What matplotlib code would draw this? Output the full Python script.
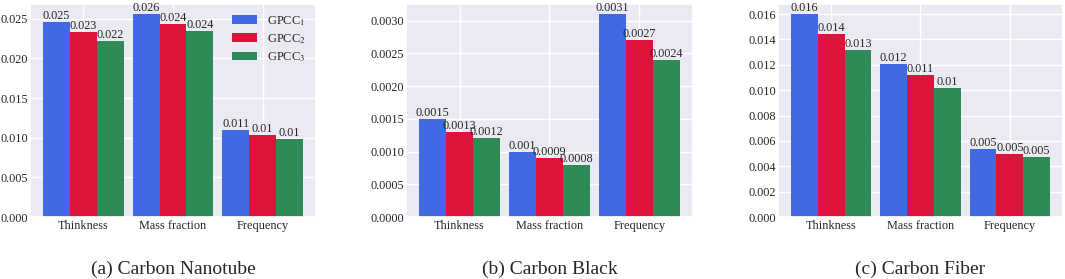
import numpy as np
import seaborn as sns
from matplotlib import pyplot as plt
from matplotlib.ticker import MultipleLocator

sns.set_theme(style='darkgrid')
plt.rcParams['font.family'] = ['Liberation Serif', 'DejaVu Serif']
plt.rcParams['mathtext.fontset'] = 'stix'

categories = ['Thinkness', 'Mass fraction', 'Frequency']
series = ['GPCC$_1$', 'GPCC$_2$', 'GPCC$_3$']
colors = ['royalblue', 'crimson', 'seagreen']

# values per panel: rows = GPCC1..3, cols = categories
nanotube = [[0.0246, 0.0256, 0.0110],
            [0.0234, 0.0244, 0.0104],
            [0.0222, 0.0235, 0.0098]]
black = [[0.0015, 0.0010, 0.0031],
         [0.0013, 0.0009, 0.0027],
         [0.0012, 0.0008, 0.0024]]
fiber = [[0.0160, 0.0121, 0.0054],
         [0.0144, 0.0112, 0.0050],
         [0.0132, 0.0102, 0.0047]]

panels = [nanotube, black, fiber]
digits = [3, 4, 3]
steps = [0.005, 0.0005, 0.002]
captions = ['(a) Carbon Nanotube', '(b) Carbon Black', '(c) Carbon Fiber']
positions = [[0.0282, 0.222, 0.2685, 0.764],
             [0.3812, 0.222, 0.2695, 0.764],
             [0.7305, 0.222, 0.2676, 0.764]]

fig = plt.figure(figsize=(10.65, 2.79), dpi=100)
x = np.arange(len(categories))
w = 0.3

for p in range(3):
    ax = fig.add_axes(positions[p])
    for i in range(3):
        vals = panels[p][i]
        bars = ax.bar(x + (i - 1) * w, vals, w, color=colors[i], label=series[i],
                      linewidth=0)
        labels = ['%g' % round(v, digits[p]) for v in vals]
        ax.bar_label(bars, labels=labels, fontsize=8.8, padding=0)
    ax.set_xticks(x)
    ax.set_xticklabels(categories)
    ax.yaxis.set_major_locator(MultipleLocator(steps[p]))
    ax.tick_params(axis='y', labelsize=8.8, pad=1.5, length=0)
    ax.tick_params(axis='x', labelsize=8.8, pad=2, length=0)
    if p == 0:
        ax.legend(loc='upper right', frameon=False, fontsize=9,
                  borderaxespad=0.4, labelspacing=0.35)
    pos = positions[p]
    fig.text(pos[0] + pos[2] / 2, 0.036, captions[p], ha='center', va='center',
             fontsize=14)

plt.savefig('out.png', dpi=100)
